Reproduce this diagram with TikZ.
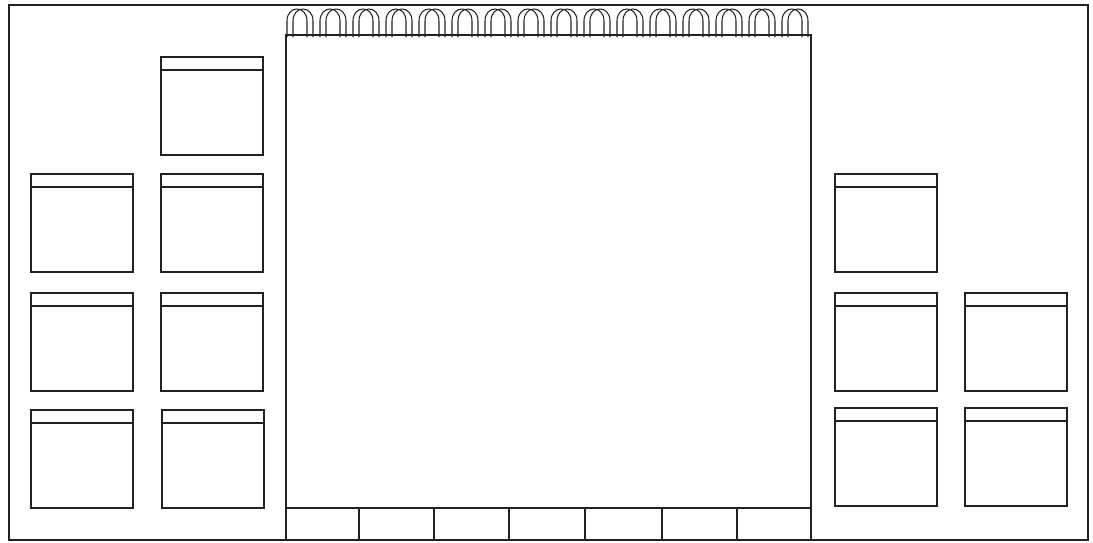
\documentclass[tikz,border=0pt]{standalone}
\usepackage{tikz}
\usetikzlibrary{calc}
\definecolor{inkGrey}{HTML}{222222}

\begin{document}
\begin{tikzpicture}[x=0.025cm, y=-0.025cm,
    frame/.style={line width=1.8pt, draw=inkGrey},
    card/.style={line width=0.8pt, draw=inkGrey},
    ring/.style={line width=0.75pt, draw=inkGrey}]
  \useasboundingbox (0,0) rectangle (1093,542);
  % Outer wall
  \draw[frame] (9,5) rectangle (1088,540);
  % Flip chart board
  \coordinate (BoardTL) at (286,35);
  \coordinate (BoardBR) at (811,540);
  \draw[frame] (BoardTL) rectangle (BoardBR);
  % Tray at the foot of the board
  \draw[card] (286,508) -- (811,508);
  \foreach \x in {359,434,509,585,662,737}
    \draw[card] (\x,508) -- (\x,540);
  % Spiral rings
  \foreach \i in {0,...,15} {
    \pgfmathsetmacro\rx{287+33*\i}
    \foreach \d in {0,6}
      \draw[ring] ({\rx+\d},37) -- ({\rx+\d},21)
        .. controls ({\rx+\d},5) and ({\rx+\d+20},5) .. ({\rx+\d+20},21)
        -- ({\rx+\d+20},37);
  }
  % Sheets pinned on the wall
  \foreach \x/\y in {31/174, 31/293, 31/410, 161/57, 161/174, 161/293,
                     162/410, 835/174, 835/293, 835/408, 965/293, 965/408} {
    \draw[card] (\x,\y) rectangle ++(102,98);
    \draw[card] (\x,{\y+13}) -- ++(102,0);
  }
\end{tikzpicture}
\end{document}
